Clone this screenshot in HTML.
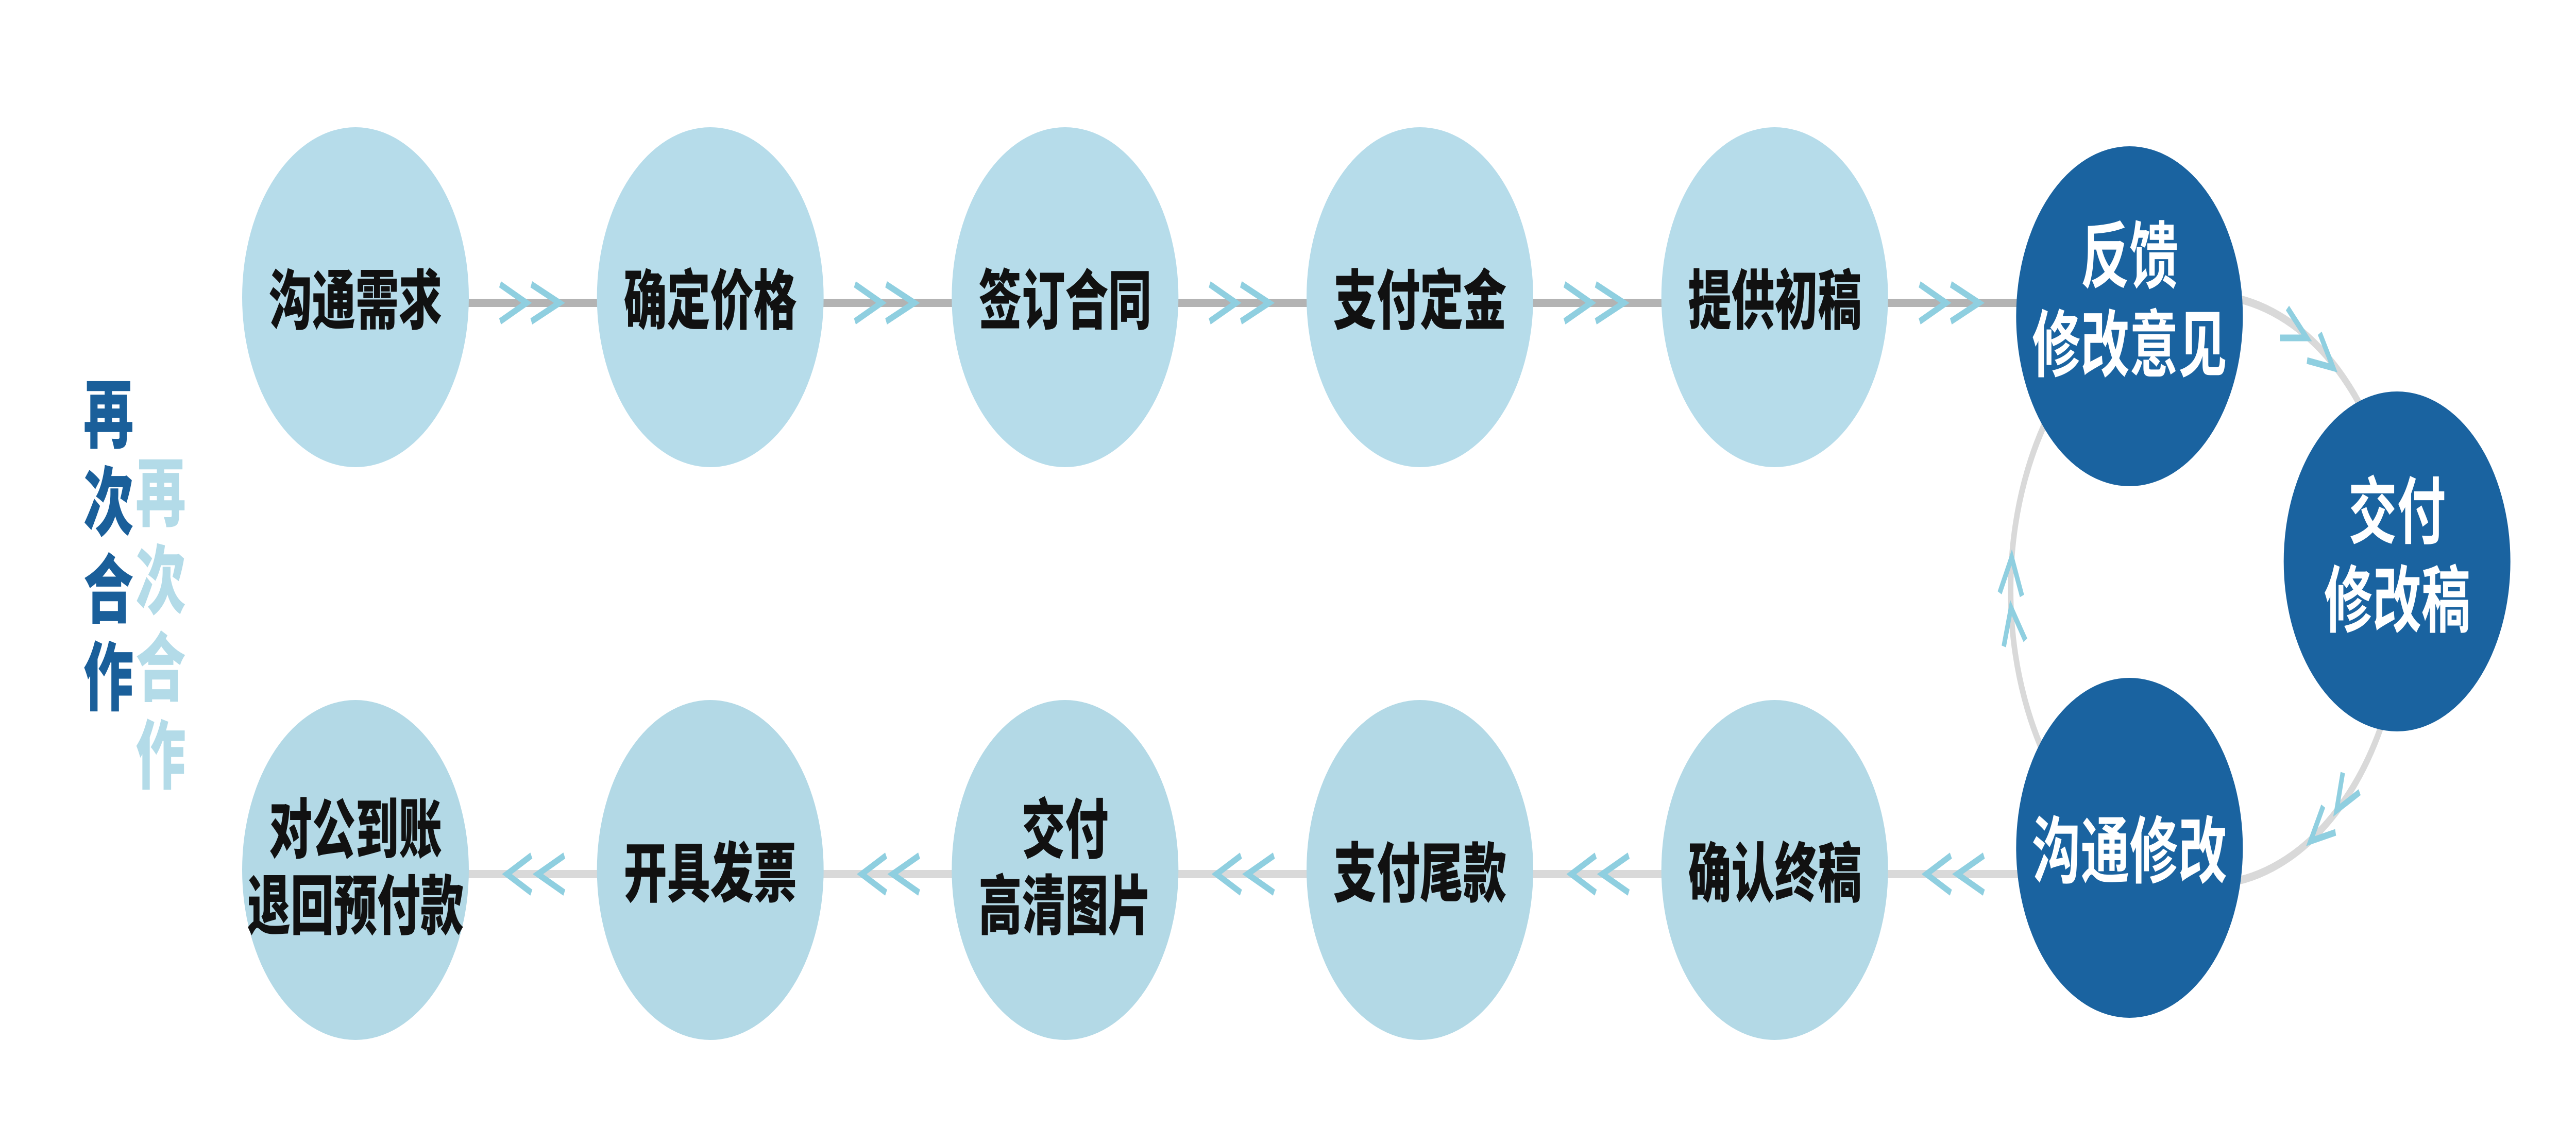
<!DOCTYPE html>
<html><head><meta charset="utf-8"><style>
html,body{margin:0;padding:0;background:#fff;width:100%;height:100%;overflow:hidden}
svg{display:block;position:fixed;left:0;top:0;width:100vw;height:100vh}
.lt{font-family:"Liberation Sans","Noto Sans CJK SC",sans-serif;font-weight:900;font-size:126px;fill:#111;text-anchor:middle;dominant-baseline:central}
.dk{font-family:"Liberation Sans","Noto Sans CJK SC",sans-serif;font-weight:700;font-size:142px;fill:#fff;text-anchor:middle;dominant-baseline:central}
.sd{font-family:"Liberation Sans","Noto Sans CJK SC",sans-serif;font-weight:900;font-size:146px;text-anchor:middle;dominant-baseline:central}
</style></head><body>
<svg viewBox="0 0 7500 2221" preserveAspectRatio="none" xmlns="http://www.w3.org/2000/svg">
<rect width="7500" height="2221" fill="#fff"/>
<line x1="1035" y1="588" x2="6200" y2="588" stroke="#b3b3b3" stroke-width="16"/>
<line x1="1035" y1="1697" x2="6200" y2="1697" stroke="#d9d9d9" stroke-width="16"/>
<circle cx="6426" cy="1145" r="572" fill="none" stroke="#d9d9d9" stroke-width="16"/>

<g fill="none" stroke="#8fcfe0" stroke-width="13">
<polyline points="1456,552 1533,588 1456,624"/><polyline points="1547,552 1629,588 1547,624"/>
<polyline points="2489,552 2566,588 2489,624"/><polyline points="2580,552 2662,588 2580,624"/>
<polyline points="3522,552 3599,588 3522,624"/><polyline points="3613,552 3695,588 3613,624"/>
<polyline points="4555,552 4632,588 4555,624"/><polyline points="4646,552 4728,588 4646,624"/>
<polyline points="5589,552 5666,588 5589,624"/><polyline points="5680,552 5762,588 5680,624"/>
<polyline points="1547,1661 1476,1697 1547,1733"/><polyline points="1643,1661 1566,1697 1643,1733"/>
<polyline points="2580,1661 2509,1697 2580,1733"/><polyline points="2676,1661 2599,1697 2676,1733"/>
<polyline points="3613,1661 3542,1697 3613,1733"/><polyline points="3709,1661 3632,1697 3709,1733"/>
<polyline points="4646,1661 4575,1697 4646,1733"/><polyline points="4742,1661 4665,1697 4742,1733"/>
<polyline points="5680,1661 5609,1697 5680,1733"/><polyline points="5776,1661 5699,1697 5776,1733"/>
<polyline points="6660,598 6716,656 6638,656"/>
<polyline points="6754,647 6793,714 6717,700"/>
<polyline points="6821,1500 6803,1573 6870,1538"/>
<polyline points="6764,1565 6727,1633 6800,1616"/>
<polyline points="5822,1151 5857,1082 5887,1157"/>
<polyline points="5834,1255 5855,1180 5897,1243"/>
</g>

<g fill="#b6dcea">
<circle cx="1035" cy="577" r="330"/><circle cx="2068" cy="577" r="330"/><circle cx="3101" cy="577" r="330"/><circle cx="4134" cy="577" r="330"/><circle cx="5167" cy="577" r="330"/>
</g>
<g fill="#b3d9e6">
<circle cx="1035" cy="1689" r="330"/><circle cx="2068" cy="1689" r="330"/><circle cx="3101" cy="1689" r="330"/><circle cx="4134" cy="1689" r="330"/><circle cx="5167" cy="1689" r="330"/>
</g>
<g fill="#1a63a0">
<circle cx="6200" cy="614" r="330"/>
<circle cx="6979" cy="1090" r="330"/>
<circle cx="6200" cy="1646" r="330"/>
</g>

<text class="lt" x="1035" y="585">沟通需求</text>
<text class="lt" x="2068" y="585">确定价格</text>
<text class="lt" x="3101" y="585">签订合同</text>
<text class="lt" x="4134" y="585">支付定金</text>
<text class="lt" x="5167" y="585">提供初稿</text>

<text class="lt" x="1035" y="1612">对公到账</text>
<text class="lt" x="1035" y="1760">退回预付款</text>
<text class="lt" x="2068" y="1697">开具发票</text>
<text class="lt" x="3101" y="1612">交付</text>
<text class="lt" x="3101" y="1760">高清图片</text>
<text class="lt" x="4134" y="1697">支付尾款</text>
<text class="lt" x="5167" y="1697">确认终稿</text>

<text class="dk" x="6200" y="499">反馈</text>
<text class="dk" x="6200" y="671">修改意见</text>
<text class="dk" x="6979" y="995">交付</text>
<text class="dk" x="6979" y="1167">修改稿</text>
<text class="dk" x="6200" y="1654">沟通修改</text>

<g class="sd" fill="#1a5f9a">
<text x="316" y="808">再</text><text x="316" y="978">次</text><text x="316" y="1148">合</text><text x="316" y="1318">作</text>
</g>
<g class="sd" fill="#b3dbe8">
<text x="468" y="960">再</text><text x="468" y="1130">次</text><text x="468" y="1300">合</text><text x="468" y="1470">作</text>
</g>
</svg>
</body></html>
